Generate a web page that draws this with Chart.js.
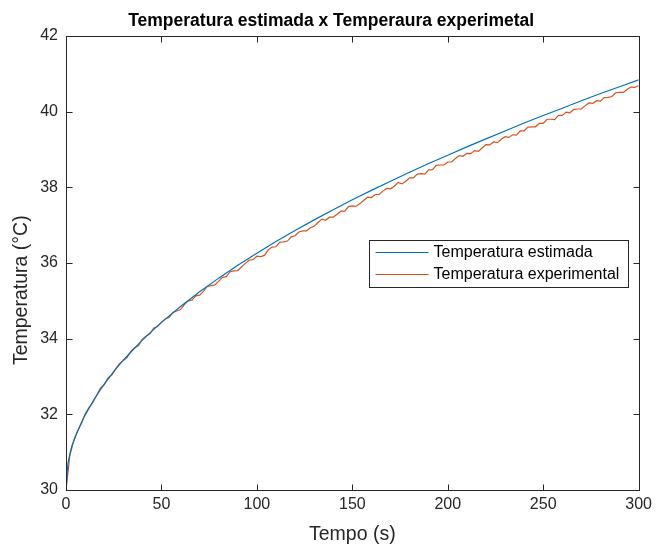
<!DOCTYPE html>
<html>
<head>
<meta charset="utf-8">
<script src="https://cdn.jsdelivr.net/npm/chart.js@4.4.0/dist/chart.umd.min.js"></script>
<style>
  body { margin: 0; background: #fff; }
  canvas { display: block; background: #fff; }
</style>
</head>
<body>
<canvas id="myChart" width="657" height="548"></canvas>
<script>
// estimated temperature
var estTime = [0, 1, 2, 3, 5, 7.5, 10, 15, 20, 25, 30, 35, 40, 45, 50, 60, 70, 80, 90, 100,
  110, 120, 130, 140, 150, 160, 170, 180, 190, 200, 210, 220, 230, 240, 250, 260, 270, 280, 290, 300];
var estTemp = [30.00, 30.70, 30.95, 31.15, 31.42, 31.72, 31.98, 32.42, 32.80, 33.13, 33.43, 33.70, 33.96, 34.20, 34.43,
  34.85, 35.24, 35.60, 35.94, 36.26, 36.57, 36.86, 37.14, 37.41, 37.67, 37.92, 38.16, 38.40, 38.63, 38.85,
  39.07, 39.28, 39.49, 39.70, 39.90, 40.09, 40.29, 40.48, 40.66, 40.84];

// experimental temperature, one reading every 2 s (orange curve)
var expStep = 2;
var expTemp = [
  30.00, 30.90, 31.30, 31.55, 31.75, 32.01, 32.18, 32.31, 32.50, 32.69,
  32.78, 32.96, 33.04, 33.20, 33.34, 33.42, 33.50, 33.67, 33.76, 33.82,
  33.99, 34.07, 34.13, 34.28, 34.32, 34.43, 34.52, 34.56, 34.69, 34.73,
  34.77, 34.90, 35.00, 35.02, 35.13, 35.15, 35.25, 35.38, 35.40, 35.42,
  35.52, 35.62, 35.64, 35.77, 35.79, 35.80, 35.90, 35.99, 36.08, 36.09,
  36.18, 36.17, 36.20, 36.35, 36.42, 36.43, 36.55, 36.56, 36.58, 36.69,
  36.72, 36.82, 36.85, 36.85, 36.93, 36.97, 37.07, 37.16, 37.13, 37.21,
  37.21, 37.29, 37.37, 37.37, 37.49, 37.51, 37.50, 37.57, 37.66, 37.74,
  37.73, 37.81, 37.81, 37.90, 37.97, 37.96, 38.03, 38.13, 38.09, 38.16,
  38.25, 38.25, 38.35, 38.36, 38.35, 38.46, 38.47, 38.58, 38.59, 38.59,
  38.67, 38.67, 38.76, 38.84, 38.82, 38.90, 38.89, 38.97, 38.95, 39.04,
  39.13, 39.12, 39.20, 39.18, 39.27, 39.34, 39.32, 39.39, 39.38, 39.49,
  39.49, 39.59, 39.60, 39.60, 39.69, 39.69, 39.80, 39.80, 39.79, 39.90,
  39.90, 39.99, 39.97, 40.06, 40.07, 40.07, 40.16, 40.23, 40.22, 40.29,
  40.28, 40.37, 40.38, 40.40, 40.50, 40.51, 40.51, 40.59, 40.65, 40.64,
  40.69
];

var seriesNames = ['Temperatura estimada', 'Temperatura experimental'];
var xTicks = [0, 50, 100, 150, 200, 250, 300];
var yTicks = [30, 32, 34, 36, 38, 40, 42];
var titleText = 'Temperatura estimada x Temperaura experimetal';
var yLabel = 'Temperatura (°C)';

var FONT = "'Liberation Sans', Arial, Helvetica, sans-serif";
var AXIS = '#262626';

function toPoints(xs, ys) {
  return ys.map(function(y, i) { return { x: xs[i], y: y }; });
}
var expTime = expTemp.map(function(_, i) { return i * expStep; });

// box round the axes with inward ticks, title, y label and the legend inside the plot
var matlabBox = {
  id: 'matlabBox',
  afterDraw: function(chart) {
    var ctx = chart.ctx;
    var ca = chart.chartArea;
    var l = Math.round(ca.left) + 0.5, r = Math.round(ca.right) + 0.5;
    var t = Math.round(ca.top) + 0.5, b = Math.round(ca.bottom) + 0.5;
    var tl = 6;
    ctx.save();
    ctx.strokeStyle = AXIS;
    ctx.lineWidth = 1;
    ctx.strokeRect(l, t, r - l, b - t);
    ctx.beginPath();
    xTicks.forEach(function(v) {
      var px = Math.round(chart.scales.x.getPixelForValue(v)) + 0.5;
      ctx.moveTo(px, b); ctx.lineTo(px, b - tl);
      ctx.moveTo(px, t); ctx.lineTo(px, t + tl);
    });
    yTicks.forEach(function(v) {
      var py = Math.round(chart.scales.y.getPixelForValue(v)) + 0.5;
      ctx.moveTo(l, py); ctx.lineTo(l + tl, py);
      ctx.moveTo(r, py); ctx.lineTo(r - tl, py);
    });
    ctx.stroke();

    // title
    ctx.fillStyle = '#000';
    ctx.font = 'bold 17.5px ' + FONT;
    ctx.textAlign = 'center';
    ctx.textBaseline = 'middle';
    ctx.fillText(titleText, ca.left + (ca.right - ca.left) * 0.463, ca.top - 15);

    // y label
    ctx.save();
    ctx.fillStyle = AXIS;
    ctx.font = '19.5px ' + FONT;
    ctx.translate(22, ca.top + (ca.bottom - ca.top) * 0.56);
    ctx.rotate(-Math.PI / 2);
    ctx.fillText(yLabel, 0, 0);
    ctx.restore();

    // legend
    var bw = 259, bh = 47;
    var bx = Math.round(ca.right) - 11 - bw + 0.5;
    var by = Math.round(ca.top) + 204 + 0.5;
    ctx.fillStyle = '#fff';
    ctx.fillRect(bx, by, bw, bh);
    ctx.strokeStyle = AXIS;
    ctx.strokeRect(bx, by, bw, bh);
    ctx.font = '16px ' + FONT;
    ctx.textBaseline = 'middle';
    ctx.textAlign = 'left';
    chart.data.datasets.forEach(function(ds, i) {
      var ly = by + 12 + i * 22;
      ctx.strokeStyle = ds.borderColor;
      ctx.lineWidth = 1.2;
      ctx.beginPath();
      ctx.moveTo(bx + 6, ly);
      ctx.lineTo(bx + 59, ly);
      ctx.stroke();
      ctx.fillStyle = '#000';
      ctx.fillText(ds.label, bx + 64, ly);
    });
    ctx.restore();
  }
};

var ctx = document.getElementById('myChart').getContext('2d');
var myChart = new Chart(ctx, {
  type: 'line',
  data: {
    datasets: [
      {
        label: seriesNames[0],
        data: toPoints(estTime, estTemp),
        borderColor: '#0072BD',
        borderWidth: 1.2,
        pointRadius: 0,
        tension: 0
      },
      {
        label: seriesNames[1],
        data: toPoints(expTime, expTemp),
        borderColor: '#D95319',
        borderWidth: 1.2,
        pointRadius: 0,
        tension: 0
      }
    ]
  },
  options: {
    responsive: false,
    animation: false,
    devicePixelRatio: 1,
    layout: { padding: { left: 0, right: 16, top: 36, bottom: 0 } },
    plugins: {
      legend: { display: false },
      tooltip: { enabled: false },
      title: { display: false }
    },
    scales: {
      x: {
        type: 'linear',
        min: 0,
        max: 300,
        afterFit: function(scale) { scale.height = 58; },
        afterBuildTicks: function(scale) { scale.ticks = xTicks.map(function(v) { return { value: v }; }); },
        ticks: { color: AXIS, font: { family: FONT, size: 16 }, padding: 5, maxRotation: 0 },
        grid: { display: false, drawTicks: false },
        border: { display: false },
        title: {
          display: true,
          text: 'Tempo (s)',
          color: AXIS,
          font: { family: FONT, size: 19.5, lineHeight: 1.2 },
          padding: { top: 0, bottom: 2 }
        }
      },
      y: {
        min: 30,
        max: 42,
        afterFit: function(scale) { scale.width = 66; },
        afterBuildTicks: function(scale) { scale.ticks = yTicks.map(function(v) { return { value: v }; }); },
        ticks: { color: AXIS, font: { family: FONT, size: 16 }, padding: 8 },
        grid: { display: false, drawTicks: false },
        border: { display: false }
      }
    }
  },
  plugins: [matlabBox]
});
</script>
</body>
</html>
